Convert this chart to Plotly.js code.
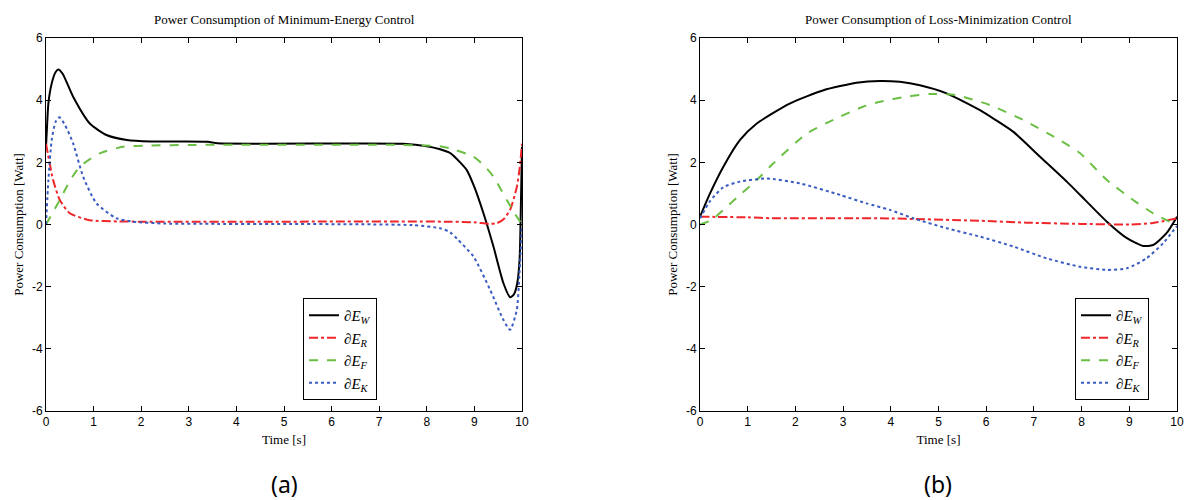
<!DOCTYPE html>
<html>
<head>
<meta charset="utf-8">
<script src="https://cdn.plot.ly/plotly-3.0.1.min.js"></script>
<style>html,body{margin:0;padding:0;background:#fff;}#chart{width:1187px;height:500px;}</style>
</head>
<body>
<div id="chart"></div>
<script>
// ---------- Data (a): Minimum-Energy Control ----------
const tW_a = [0, 0.02, 0.05, 0.12, 0.2, 0.26, 0.35, 0.57, 0.92, 1.27, 1.7, 2.2, 3.4, 3.6, 7.5, 8.0, 8.28, 8.5, 8.7, 8.84, 9.0, 9.19, 9.4, 9.61, 9.75, 9.83, 9.9, 9.95, 9.98, 10];
const W_a  = [2.5, 3.1, 3.9, 4.54, 4.9, 4.99, 4.85, 4.11, 3.25, 2.88, 2.72, 2.67, 2.66, 2.61, 2.6, 2.52, 2.42, 2.29, 2.0, 1.75, 1.2, 0.36, -0.71, -1.89, -2.34, -2.25, -1.89, -1.1, 0.9, 2.5];
const tR_a = [0, 0.15, 0.29, 0.5, 0.92, 1.5, 2, 8.5, 9.0, 9.3, 9.47, 9.6, 9.75, 9.89, 9.95, 10];
const R_a  = [2.6, 1.43, 0.79, 0.36, 0.14, 0.1, 0.09, 0.09, 0.07, 0.02, 0.04, 0.15, 0.47, 1.2, 1.8, 2.6];
const tF_a = [0, 0.29, 0.5, 0.71, 1.13, 1.62, 2.2, 3, 7.5, 8.0, 8.28, 8.49, 8.98, 9.2, 9.4, 9.68, 9.85, 10];
const F_a  = [0, 0.79, 1.4, 1.86, 2.29, 2.5, 2.54, 2.56, 2.56, 2.54, 2.52, 2.45, 2.18, 1.9, 1.54, 0.79, 0.35, 0.0];
const tK_a = [0, 0.05, 0.12, 0.2, 0.28, 0.4, 0.57, 0.78, 1.06, 1.48, 1.83, 2.5, 3.6, 7.7, 8.28, 8.49, 8.63, 8.98, 9.33, 9.61, 9.75, 9.89, 9.95, 10];
const K_a  = [0, 1.43, 2.72, 3.3, 3.45, 3.2, 2.61, 1.54, 0.68, 0.2, 0.09, 0.03, 0.02, -0.02, -0.12, -0.25, -0.45, -1.03, -2.1, -3.07, -3.39, -2.75, -1.5, 0];

// ---------- Data (b): Loss-Minimization Control ----------
const tW_b = [0, 0.21, 0.49, 0.84, 1.19, 1.89, 2.59, 3.28, 3.77, 4.19, 4.61, 5.17, 5.87, 6.2, 6.57, 7.13, 7.69, 7.97, 8.53, 8.95, 9.29, 9.5, 9.78, 10];
const W_b  = [0.25, 1.0, 1.86, 2.72, 3.25, 3.9, 4.32, 4.56, 4.62, 4.59, 4.48, 4.22, 3.68, 3.36, 2.98, 2.18, 1.38, 0.95, 0.09, -0.44, -0.69, -0.66, -0.28, 0.25];
const tR_b = [0, 1, 1.5, 3.77, 5.87, 6.85, 7.97, 9, 9.5, 10];
const R_b  = [0.25, 0.23, 0.2, 0.2, 0.12, 0.06, 0.02, 0.0, 0.05, 0.2];
const tF_b = [0, 0.25, 0.49, 0.8, 1.19, 1.54, 2.24, 2.94, 3.42, 3.77, 4.33, 4.82, 5.38, 6.08, 6.78, 7.48, 7.97, 8.53, 9.08, 9.5, 9.92, 10];
const F_b  = [0, 0.15, 0.47, 0.9, 1.43, 1.97, 2.93, 3.47, 3.79, 3.95, 4.11, 4.2, 4.16, 3.84, 3.36, 2.77, 2.29, 1.43, 0.79, 0.36, 0.04, 0];
const tK_b = [0, 0.21, 0.49, 0.84, 1.4, 2.1, 2.94, 3.49, 3.98, 4.47, 5.17, 5.87, 6.57, 7.27, 7.97, 8.53, 8.95, 9.36, 9.71, 10];
const K_b  = [0.2, 0.75, 1.2, 1.38, 1.48, 1.32, 0.95, 0.68, 0.47, 0.2, -0.12, -0.39, -0.71, -1.09, -1.36, -1.46, -1.41, -1.09, -0.6, -0.05];

// ---------- Labels ----------
const seriesNames = ['<i>∂E</i><sub><i>W</i></sub>', '<i>∂E</i><sub><i>R</i></sub>', '<i>∂E</i><sub><i>F</i></sub>', '<i>∂E</i><sub><i>K</i></sub>'];
const xTicks = [0,1,2,3,4,5,6,7,8,9,10];
const xTickText = ['0','1','2','3','4','5','6','7','8','9','10'];
const yTicks = [-6,-4,-2,0,2,4,6];
const yTickText = ['-6','-4','-2','0','2','4','6'];
const titles = ['Power Consumption of Minimum-Energy Control', 'Power Consumption of Loss-Minimization Control'];
const panelLabels = ['(a)', '(b)'];
const xTitle = 'Time [s]';
const yTitle = 'Power Consumption [Watt]';

const colors = ['#000000', '#f0262a', '#6cbf45', '#3a5cc0'];
const dashes = ['solid', 'dashdot', 'dash', 'dot'];

const W = 1187, H = 500;
const dom1 = [46/W, 522/W], dom2 = [700/W, 1177/W];
const ydom = [1-411/H, 1-38/H];

function mk(x, y, i, ax, leg) {
  return {x: x, y: y, type: 'scatter', mode: 'lines', name: seriesNames[i],
    xaxis: ax[0], yaxis: ax[1], legend: leg,
    line: {color: colors[i], width: 2, dash: dashes[i], shape: 'spline', smoothing: 0.6}};
}
const A = ['x','y'], B = ['x2','y2'];
const data = [
  mk(tW_a, W_a, 0, A, 'legend'), mk(tR_a, R_a, 1, A, 'legend'), mk(tF_a, F_a, 2, A, 'legend'), mk(tK_a, K_a, 3, A, 'legend'),
  mk(tW_b, W_b, 0, B, 'legend2'), mk(tR_b, R_b, 1, B, 'legend2'), mk(tF_b, F_b, 2, B, 'legend2'), mk(tK_b, K_b, 3, B, 'legend2')
];

const tickFont = {family: 'Liberation Sans, Arial, sans-serif', size: 12, color: '#000'};
const serif = 'Liberation Serif, Times New Roman, serif';
function xax(dom, anchor) {
  return {domain: dom, anchor: anchor, range: [0, 10], tickvals: xTicks, ticktext: xTickText,
    ticks: 'inside', ticklen: 5, tickcolor: '#000', showline: true, linecolor: '#000', linewidth: 1,
    mirror: 'ticks', showgrid: false, zeroline: false, tickfont: tickFont, automargin: false,
    title: {text: xTitle, font: {family: serif, size: 13, color: '#000'}, standoff: 6}};
}
function yax(anchor) {
  return {domain: ydom, anchor: anchor, range: [-6, 6], tickvals: yTicks, ticktext: yTickText,
    ticks: 'inside', ticklen: 5, tickcolor: '#000', showline: true, linecolor: '#000', linewidth: 1,
    mirror: 'ticks', showgrid: false, zeroline: false, tickfont: tickFont, automargin: false,
    title: {text: yTitle, font: {family: serif, size: 13, color: '#000'}, standoff: 5}};
}
const legStyle = {bgcolor: '#fff', bordercolor: '#000', borderwidth: 1,
  font: {family: serif, size: 15, color: '#000'}, xanchor: 'left', yanchor: 'top',
  tracegroupgap: 0, itemwidth: 30};

const layout = {
  width: W, height: H, margin: {l: 0, r: 0, t: 0, b: 0},
  paper_bgcolor: '#fff', plot_bgcolor: '#fff', showlegend: true,
  xaxis: xax(dom1, 'y'), yaxis: yax('x'),
  xaxis2: xax(dom2, 'y2'), yaxis2: yax('x2'),
  legend: Object.assign({x: 303/W, y: 1-298/H}, legStyle),
  legend2: Object.assign({x: 1075/W, y: 1-298/H}, legStyle),
  annotations: [
    {text: titles[0], xref: 'paper', yref: 'paper', x: 284/W, y: 1-19/H, showarrow: false, xanchor: 'center', yanchor: 'middle', font: {family: serif, size: 13, color: '#000'}},
    {text: titles[1], xref: 'paper', yref: 'paper', x: 938/W, y: 1-19/H, showarrow: false, xanchor: 'center', yanchor: 'middle', font: {family: serif, size: 13, color: '#000'}},
    {text: panelLabels[0], xref: 'paper', yref: 'paper', x: 284/W, y: 1-484/H, showarrow: false, xanchor: 'center', yanchor: 'middle', font: {family: 'Noto Sans, sans-serif', size: 23, color: '#000'}},
    {text: panelLabels[1], xref: 'paper', yref: 'paper', x: 938/W, y: 1-484/H, showarrow: false, xanchor: 'center', yanchor: 'middle', font: {family: 'Noto Sans, sans-serif', size: 23, color: '#000'}}
  ]
};

Plotly.newPlot('chart', data, layout, {displayModeBar: false, staticPlot: true});
</script>
</body>
</html>
